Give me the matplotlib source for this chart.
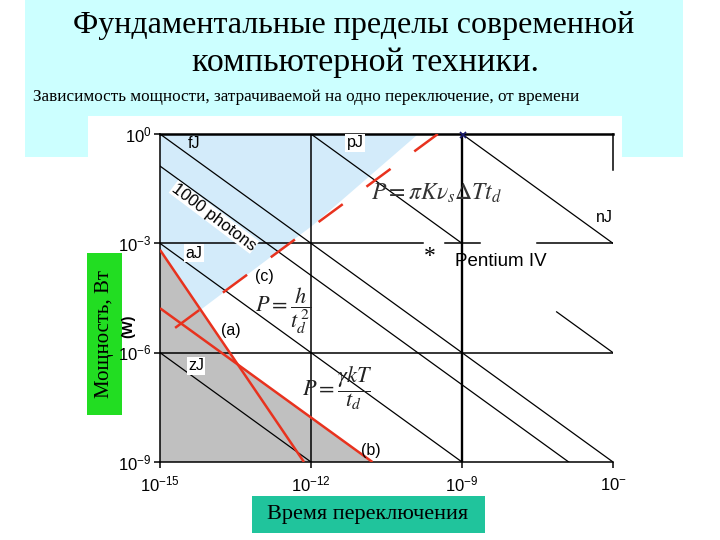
import numpy as np
import matplotlib
matplotlib.use('Agg')
import matplotlib.pyplot as plt
from matplotlib.patches import Rectangle, Polygon
from matplotlib.ticker import NullLocator, FixedLocator, FixedFormatter

plt.rcParams['mathtext.fontset'] = 'custom'
plt.rcParams['mathtext.rm'] = 'Liberation Sans'
plt.rcParams['mathtext.it'] = 'Liberation Sans:italic'
plt.rcParams['mathtext.bf'] = 'Liberation Sans:bold'
plt.rcParams['lines.scale_dashes'] = False

# ---------------- data (log10 values) ----------------
x_ticks = [1e-15, 1e-12, 1e-9, 1e-6]
x_tick_labels = [r'$10^{-15}$', r'$10^{-12}$', r'$10^{-9}$', r'$10^{-}$']
y_ticks = [1e0, 1e-3, 1e-6, 1e-9]
y_tick_labels = [r'$10^{0}$', r'$10^{-3}$', r'$10^{-6}$', r'$10^{-9}$']

# constant-energy lines (log t, log P endpoints)
fj_t, fj_p = [-15, -6], [0, -9]
pj1_t, pj1_p = [-12, -9], [0, -3]
pj2_t, pj2_p = [-7.12, -6], [-4.88, -6]
nj_t, nj_p = [-9, -6], [0, -3]
aj_t, aj_p = [-15, -9], [-3, -9]
zj_t, zj_p = [-15, -12], [-6, -9]
ph_t, ph_p = [-15, -6.88], [-0.88, -9]      # 1000 photons

# limit lines
a_t, a_p = [-15, -12.14], [-3.18, -9]        # P = h / t^2
b_t, b_p = [-15, -10.78], [-4.78, -9]        # P = gamma k T / t
c_t, c_p = [-14.70, -9.48], [-5.32, 0.0]     # P = pi K v dT t

# shaded regions
gray_t = [-15, -15, -13.47, -10.78]
gray_p = [-9, -3.18, -6.30, -9]
blue_t = [-15, -9.87, -11.96, -14.2, -15]
blue_p = [0, 0, -2.50, -4.83, -3.18]

# horizontal 1e-3 grid segments (with gaps)
h3_segs = [(-15, -9.775), (-9.337, -8.642), (-7.51, -6)]

# ---------------------------------------------------------------------------
W, H = 720, 540
fig = plt.figure(figsize=(7.2, 5.4), dpi=100)
fig.patch.set_facecolor('white')

def rect_px(x0, y0, x1, y1, color, z=-1):
    r = Rectangle((x0 / W, 1 - y1 / H), (x1 - x0) / W, (y1 - y0) / H,
                  transform=fig.transFigure, facecolor=color, edgecolor='none', zorder=z)
    fig.patches.append(r)

def ftext(x, y, s, **kw):
    return fig.text(x / W, 1 - y / H, s, **kw)

rect_px(25, 0, 683, 157, '#ccffff', z=-2)
rect_px(88, 116, 622, 540, 'white', z=-1)

ax = fig.add_axes([160 / W, (H - 462) / H, 453 / W, 328 / H])
ax.set_zorder(1)
ax.set_facecolor('white')
ax.set_xscale('log')
ax.set_yscale('log')
ax.set_xlim(1e-15, 1e-6)
ax.set_ylim(1e-9, 1)

L = lambda v: 10.0 ** np.asarray(v, dtype=float)

ax.add_patch(Polygon(np.column_stack([L(blue_t), L(blue_p)]), closed=True,
                     facecolor='#d3ebfa', edgecolor='none', zorder=1))
ax.add_patch(Polygon(np.column_stack([L(gray_t), L(gray_p)]), closed=True,
                     facecolor='#c0c0c0', edgecolor='none', zorder=1))

# grid lines
ax.plot(L([-12, -12]), L([0, -9]), color='black', lw=1.1, zorder=2)
ax.plot(L([-9, -9]), L([0, -9]), color='black', lw=1.7, zorder=2)
ax.plot(L([-15, -6]), L([-6, -6]), color='black', lw=1.1, zorder=2)
for s0, s1 in h3_segs:
    ax.plot(L([s0, s1]), L([-3, -3]), color='black', lw=1.1, zorder=2)

for tt, pp in [(fj_t, fj_p), (pj1_t, pj1_p), (pj2_t, pj2_p), (nj_t, nj_p),
               (aj_t, aj_p), (zj_t, zj_p), (ph_t, ph_p)]:
    ax.plot(L(tt), L(pp), color='black', lw=0.9, zorder=3)

red = '#e8321e'
ax.plot(L(a_t), L(a_p), color=red, lw=1.8, zorder=4, solid_capstyle='butt')
ax.plot(L(b_t), L(b_p), color=red, lw=1.8, zorder=4, solid_capstyle='butt')
ax.plot(L(c_t), L(c_p), color=red, lw=1.8, zorder=4, dashes=(21.6, 21.2),
        dash_capstyle='butt')

ax.plot([1.05e-9], [0.93], marker='x', color='#1a1a6e', ms=4, mew=1.2, zorder=5,
        clip_on=False)

# spines & ticks
ax.spines['top'].set_linewidth(1.8)
ax.spines['left'].set_linewidth(1.1)
ax.spines['bottom'].set_linewidth(1.1)
ax.spines['right'].set_visible(False)
ax.plot(L([-6, -6]), L([0, -1]), color='black', lw=1.1, zorder=5, clip_on=False)

ax.xaxis.set_major_locator(FixedLocator(x_ticks))
ax.xaxis.set_major_formatter(FixedFormatter(x_tick_labels))
ax.yaxis.set_major_locator(FixedLocator(y_ticks))
ax.yaxis.set_major_formatter(FixedFormatter(y_tick_labels))
ax.xaxis.set_minor_locator(NullLocator())
ax.yaxis.set_minor_locator(NullLocator())
ax.tick_params(axis='both', direction='out', length=4, width=1.1, labelsize=12,
               colors='black')
ax.tick_params(axis='x', pad=6)
ax.tick_params(axis='y', pad=2)

# labels in plot
sans = 'Liberation Sans'
wb = dict(facecolor='white', edgecolor='none', pad=0.8)
ftext(194, 143, 'fJ', family=sans, fontsize=11.5, ha='center', va='center', zorder=6)
ftext(355, 143, 'pJ', family=sans, fontsize=11.5, ha='center', va='center', bbox=wb, zorder=6)
ftext(604, 218, 'nJ', family=sans, fontsize=11.5, ha='center', va='center', bbox=wb, zorder=6)
ftext(194, 253, 'aJ', family=sans, fontsize=11.5, ha='center', va='center', bbox=wb, zorder=6)
ftext(196, 366, 'zJ', family=sans, fontsize=11.5, ha='center', va='center', bbox=wb, zorder=6)
ftext(264, 277, '(c)', family=sans, fontsize=11.5, ha='center', va='center', zorder=6)
ftext(231, 330, '(a)', family=sans, fontsize=11.5, ha='center', va='center', zorder=6)
ftext(371, 450, '(b)', family=sans, fontsize=11.5, ha='center', va='center', zorder=6)
ftext(214, 217, '1000 photons', family=sans, fontsize=12, ha='center', va='center',
      rotation=-37, rotation_mode='anchor', bbox=dict(facecolor='white', edgecolor='none', pad=0.3),
      zorder=6)
ftext(455, 261, 'Pentium IV', family=sans, fontsize=13.5, ha='left', va='center', zorder=6)
ftext(430, 256, '*', family='Liberation Serif', fontsize=17, ha='center', va='center', zorder=6)

ftext(437, 193, r'$P=\pi K\nu_s\Delta T t_d$', fontsize=17, ha='center', va='center',
      math_fontfamily='stix', color='#333333', zorder=6)
ftext(283, 311, r'$P=\dfrac{h}{t_d^{\,2}}$', fontsize=16, ha='center', va='center',
      math_fontfamily='stix', color='#222222', zorder=6)
ftext(337, 388, r'$P=\dfrac{\gamma kT}{t_d}$', fontsize=16, ha='center', va='center',
      math_fontfamily='stix', color='#222222', zorder=6)

# axis label boxes
rect_px(87, 253, 122, 415, '#22dd22', z=0.5)
ftext(105, 334, 'Мощность, Вт', family='Liberation Serif', fontsize=15, rotation=90,
      ha='center', va='center', zorder=6)
ftext(128, 326, '(W)', family=sans, fontsize=10.5, fontweight='bold', rotation=90,
      ha='center', va='center', zorder=6)

rect_px(252, 496, 485, 533, '#20c49c', z=5)
ftext(368, 515, 'Время переключения', family='Liberation Serif', fontsize=16,
      ha='center', va='center', zorder=6)

# title
serif = 'Liberation Serif'
ftext(354, 26, 'Фундаментальные пределы современной', family=serif, fontsize=23,
      ha='center', va='center', zorder=6)
ftext(365, 63, 'компьютерной техники.', family=serif, fontsize=24.5,
      ha='center', va='center', zorder=6)
ftext(33, 97, 'Зависимость мощности, затрачиваемой на одно переключение, от времени',
      family=serif, fontsize=12.3, ha='left', va='center', zorder=6)

fig.savefig('out.png', dpi=100)
